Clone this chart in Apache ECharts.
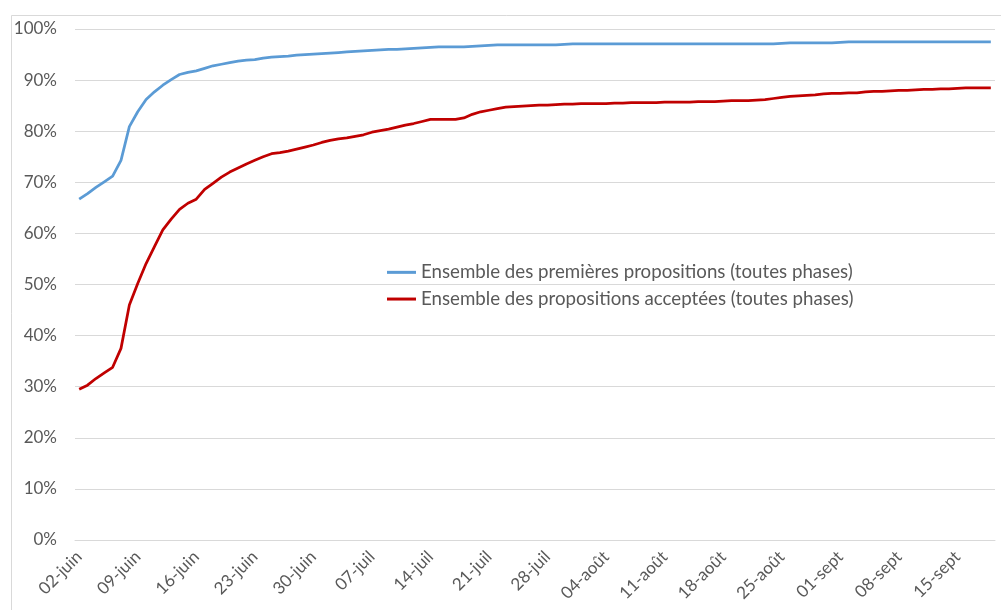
<!DOCTYPE html>
<html>
<head>
<meta charset="utf-8">
<script src="https://cdn.jsdelivr.net/npm/echarts@6/dist/echarts.min.js"></script>
<style>
    html, body { margin: 0; padding: 0; background: #fff; }
    #chart { width: 1001px; height: 610px; }
</style>
</head>
<body>
<div id="chart"></div>
<script>
// mois affichés sur l'axe : nom, premier jour, dernier jour
var months = [["juin", 2, 30], ["juil", 1, 31], ["août", 1, 31], ["sept", 1, 19]];

// une catégorie par jour, du 02-juin au 19-sept
var days = [];
months.forEach(function (m) {
    for (var d = m[1]; d <= m[2]; d++) {
        days.push((d < 10 ? "0" + d : "" + d) + "-" + m[0]);
    }
});

var seriesNames = [
    "Ensemble des premières propositions (toutes phases)",
    "Ensemble des propositions acceptées (toutes phases)"
];

// taux cumulés en %
var premieres = [
    66.7, 67.8, 69.0, 70.1, 71.2, 74.3, 80.9, 83.8, 86.2, 87.7,
    89.0, 90.1, 91.1, 91.5, 91.8, 92.3, 92.8, 93.1, 93.4, 93.7,
    93.9, 94.0, 94.3, 94.5, 94.6, 94.7, 94.9, 95.0, 95.1, 95.2,
    95.3, 95.4, 95.5, 95.6, 95.7, 95.8, 95.9, 96.0, 96.0, 96.1,
    96.2, 96.3, 96.4, 96.5, 96.5, 96.5, 96.5, 96.6, 96.7, 96.8,
    96.9, 96.9, 96.9, 96.9, 96.9, 96.9, 96.9, 96.9, 97.0, 97.1,
    97.1, 97.1, 97.1, 97.1, 97.1, 97.1, 97.1, 97.1, 97.1, 97.1,
    97.1, 97.1, 97.1, 97.1, 97.1, 97.1, 97.1, 97.1, 97.1, 97.1,
    97.1, 97.1, 97.1, 97.1, 97.2, 97.3, 97.3, 97.3, 97.3, 97.3,
    97.3, 97.4, 97.5, 97.5, 97.5, 97.5, 97.5, 97.5, 97.5, 97.5,
    97.5, 97.5, 97.5, 97.5, 97.5, 97.5, 97.5, 97.5, 97.5, 97.5
];

var acceptees = [
    29.5, 30.3, 31.6, 32.7, 33.8, 37.5, 46.0, 50.2, 54.1, 57.4,
    60.7, 62.8, 64.7, 65.9, 66.7, 68.6, 69.8, 71.0, 72.0, 72.8,
    73.6, 74.3, 75.0, 75.6, 75.8, 76.1, 76.5, 76.9, 77.3, 77.8,
    78.2, 78.5, 78.7, 79.0, 79.3, 79.8, 80.1, 80.4, 80.8, 81.2,
    81.5, 81.9, 82.3, 82.3, 82.3, 82.3, 82.6, 83.3, 83.8, 84.1,
    84.4, 84.7, 84.8, 84.9, 85.0, 85.1, 85.1, 85.2, 85.3, 85.3,
    85.4, 85.4, 85.4, 85.4, 85.5, 85.5, 85.6, 85.6, 85.6, 85.6,
    85.7, 85.7, 85.7, 85.7, 85.8, 85.8, 85.8, 85.9, 86.0, 86.0,
    86.0, 86.1, 86.2, 86.4, 86.6, 86.8, 86.9, 87.0, 87.1, 87.3,
    87.4, 87.4, 87.5, 87.5, 87.7, 87.8, 87.8, 87.9, 88.0, 88.0,
    88.1, 88.2, 88.2, 88.3, 88.3, 88.4, 88.5, 88.5, 88.5, 88.5
];

var colors = ["#5b9bd5", "#c00000"];
var textColor = "#595959";
var gridColor = "#d9d9d9";
var font = "Lato";

var chart = echarts.init(document.getElementById("chart"));

var option = {
    animation: false,
    backgroundColor: "#fff",
    graphic: [
        {
            type: "rect",
            left: 9, top: 13,
            shape: { width: 1010, height: 610 },
            style: { fill: "none", stroke: gridColor, lineWidth: 1 }
        }
    ],
    legend: {
        orient: "vertical",
        left: 382,
        top: 256,
        icon: "rect",
        itemWidth: 29,
        itemHeight: 3,
        itemGap: 4,
        textStyle: { color: textColor, fontFamily: font, fontSize: 18.7, lineHeight: 22.7 },
        data: seriesNames
    },
    grid: { left: 75, right: 6, top: 29, bottom: 70 },
    xAxis: {
        type: "category",
        data: days,
        boundaryGap: true,
        axisLine: { lineStyle: { color: gridColor, width: 1 } },
        axisTick: {
            length: 6,
            lineStyle: { color: gridColor },
            interval: function (index) { return index % 7 === 0; }
        },
        axisLabel: {
            rotate: 45,
            margin: 14,
            color: textColor,
            fontFamily: font,
            fontSize: 17,
            interval: function (index) { return index % 7 === 0; }
        },
        splitLine: { show: false }
    },
    yAxis: {
        type: "value",
        min: 0,
        max: 100,
        interval: 10,
        axisLine: { show: false },
        axisTick: { show: false },
        axisLabel: {
            formatter: "{value}%",
            margin: 18,
            color: textColor,
            fontFamily: font,
            fontSize: 17
        },
        splitLine: { lineStyle: { color: gridColor, width: 1 } }
    },
    series: [
        {
            name: seriesNames[0],
            type: "line",
            data: premieres,
            symbol: "none",
            lineStyle: { color: colors[0], width: 2.75 },
            itemStyle: { color: colors[0] }
        },
        {
            name: seriesNames[1],
            type: "line",
            data: acceptees,
            symbol: "none",
            lineStyle: { color: colors[1], width: 2.75 },
            itemStyle: { color: colors[1] }
        }
    ]
};

chart.setOption(option);
</script>
</body>
</html>
